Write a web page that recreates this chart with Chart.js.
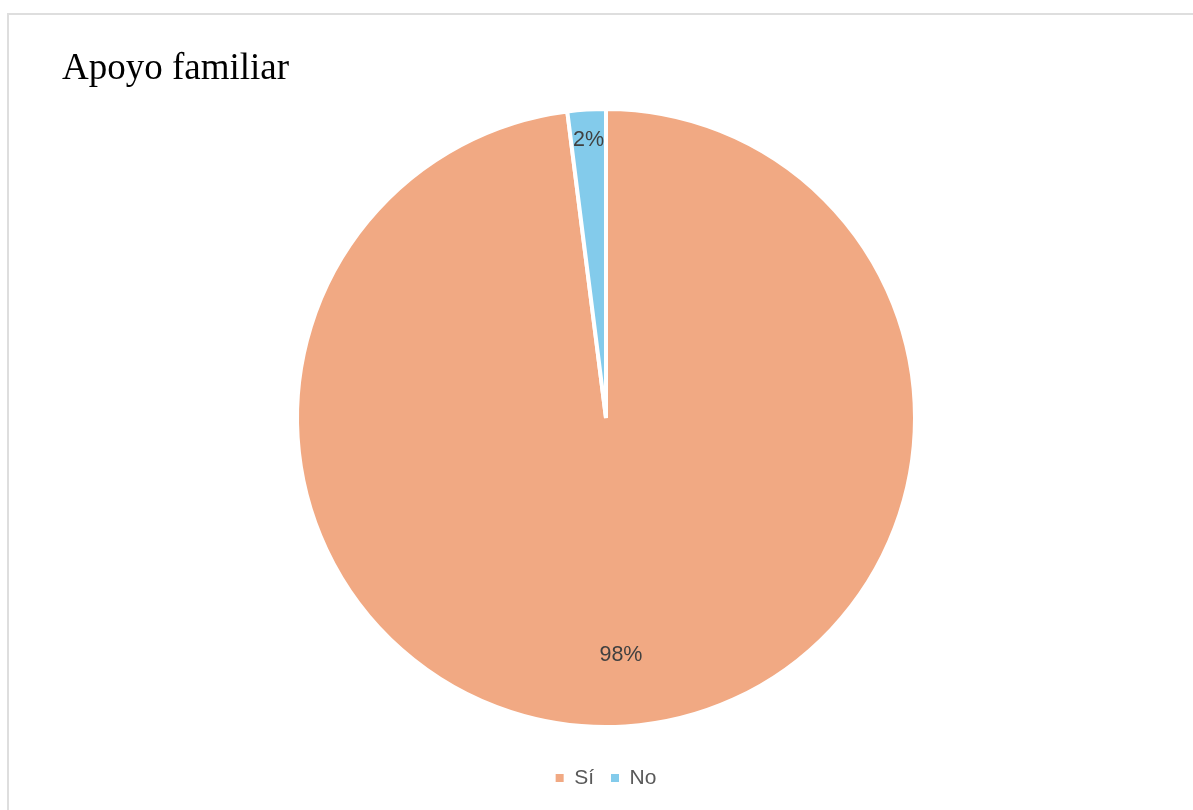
<!DOCTYPE html>
<html>
<head>
  <title>Apoyo familiar</title>
  <script src="https://cdn.jsdelivr.net/npm/chart.js"></script>
  <style>
    body { margin: 0; background: #fff; overflow: hidden; }
    #marco { position: absolute; left: 7px; top: 13px; width: 1210px; height: 830px; border: 2px solid #dedede; box-sizing: border-box; }
    #grafico { position: absolute; left: 0; top: 0; }
  </style>
</head>
<body>
  <div id="marco"></div>
  <canvas id="grafico" width="1193" height="810"></canvas>

  <script>
    // datos
    const categorias = ['Sí', 'No'];
    const porcentajes = [98, 2];
    const colores = ['#F1A983', '#83CBEB'];

    // donde va cada etiqueta dentro de su porcion (fraccion del radio)
    const posEtiqueta = [0.77, 0.9];

    const etiquetasPorcentaje = {
      id: 'etiquetasPorcentaje',
      afterDatasetsDraw(chart) {
        const ctx = chart.ctx;
        const meta = chart.getDatasetMeta(0);
        ctx.save();
        ctx.font = '21.5px "Liberation Sans", Arial, sans-serif';
        ctx.fillStyle = '#404040';
        ctx.textAlign = 'center';
        ctx.textBaseline = 'middle';
        meta.data.forEach((arco, i) => {
          const p = arco.getProps(['x', 'y', 'startAngle', 'endAngle', 'outerRadius'], true);
          const medio = (p.startAngle + p.endAngle) / 2;
          const r = p.outerRadius * posEtiqueta[i];
          ctx.fillText(porcentajes[i] + '%', p.x + Math.cos(medio) * r, p.y + Math.sin(medio) * r);
        });
        ctx.restore();
      }
    };

    const ctx = document.getElementById('grafico').getContext('2d');

    new Chart(ctx, {
      type: 'pie',
      data: {
        labels: categorias,
        datasets: [{
          data: porcentajes,
          backgroundColor: colores,
          borderColor: '#ffffff',
          borderWidth: 4,
        }],
      },
      options: {
        responsive: false,
        animation: false,
        radius: 309,
        layout: { padding: { left: 62, right: 43, top: 0, bottom: 11.5 } },
        plugins: {
          title: {
            display: true,
            text: 'Apoyo familiar',
            align: 'start',
            color: '#000000',
            font: { family: '"Liberation Serif", "Times New Roman", serif', size: 37, weight: 'normal', lineHeight: 0.8 },
            padding: { top: 54.5, bottom: 1.4 },
          },
          legend: {
            position: 'bottom',
            labels: {
              boxWidth: 8,
              boxHeight: 8,
              padding: 17,
              color: '#595959',
              font: { family: '"Liberation Sans", Arial, sans-serif', size: 21 },
              generateLabels(chart) {
                const items = Chart.overrides.pie.plugins.legend.labels.generateLabels(chart);
                items.forEach(it => { it.lineWidth = 0; it.strokeStyle = it.fillStyle; });
                return items;
              },
            },
          },
          tooltip: { enabled: false },
        },
      },
      plugins: [etiquetasPorcentaje],
    });
  </script>
</body>
</html>
